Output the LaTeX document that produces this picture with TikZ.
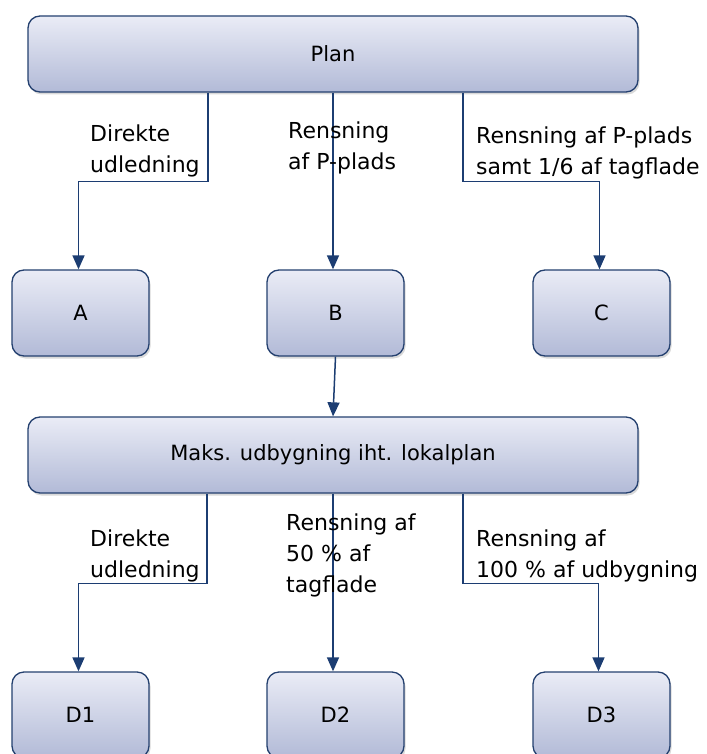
\documentclass[tikz,border=0pt]{standalone}
\usepackage{fontspec}
\setmainfont{DejaVu Sans}
\usetikzlibrary{arrows.meta,shadows}
\definecolor{boxborder}{HTML}{24406F}
\definecolor{boxtop}{HTML}{EAECF6}
\definecolor{boxbot}{HTML}{B2BAD7}
\definecolor{conncol}{HTML}{1C3D72}
\newcommand{\mylbl}[1]{\begin{tabular}[t]{@{}l@{}}#1\end{tabular}}
\begin{document}
\begin{tikzpicture}[x=1pt,y=-1pt,
  boxnode/.style={draw=boxborder, line width=1.3pt, rounded corners=12pt,
    top color=boxtop, bottom color=boxbot, inner sep=0pt,
    font=\fontsize{21}{25}\selectfont,
    drop shadow={opacity=0.3, shadow xshift=1.5pt, shadow yshift=-2.5pt}},
  wide/.style={boxnode, minimum width=610pt, minimum height=76pt},
  small/.style={boxnode, minimum width=137pt, minimum height=86pt},
  conn/.style={draw=conncol, line width=1.5pt, -{Triangle[length=14pt,width=12pt]}},
  lblnode/.style={anchor=base west, inner sep=0pt, font=\fontsize{22}{31}\selectfont}
]
\useasboundingbox (0,0) rectangle (706,754);
\begin{scope}
\clip (0,0) rectangle (706,754);
\node[wide] (plan) at (333,54) {Plan};
\node[small] (A) at (80.5,313) {A};
\node[small] (B) at (335.5,313) {B};
\node[small] (C) at (601.5,313) {C};
\node[wide] (maks) at (333,455) {Maks. udbygning iht. lokalplan};
\node[small] (D1) at (80.5,715) {D1};
\node[small] (D2) at (335.5,715) {D2};
\node[small] (D3) at (601.5,715) {D3};

\draw[conn] ([xshift=-125pt]plan.south) -- ++(0,89) -| ([xshift=-2pt]A.north);
\draw[conn] (plan.south) -- (plan.south |- B.north);
\draw[conn] ([xshift=130pt]plan.south) -- ++(0,89) -| ([xshift=-2pt]C.north);
\draw[conn] (B.south) -- (maks.north);
\draw[conn] ([xshift=-126pt]maks.south) -- ++(0,90) -| ([xshift=-2pt]D1.north);
\draw[conn] (maks.south) -- (maks.south |- D2.north);
\draw[conn] ([xshift=130pt]maks.south) -- ++(0,90) -| ([xshift=-3pt]D3.north);
\end{scope}

\node[lblnode] (l1) at (90,142) {\mylbl{Direkte\\udledning}};
\node[lblnode] (l2) at (288,139) {\mylbl{Rensning\\af P-plads}};
\node[lblnode] (l3) at (476,144) {\mylbl{Rensning af P-plads\\samt 1/6 af tagflade}};
\node[lblnode] (l4) at (90,546) {\mylbl{Direkte\\udledning}};
\node[lblnode] (l5) at (286,530) {\mylbl{Rensning af\\50 \% af\\tagflade}};
\node[lblnode] (l6) at (476,546) {\mylbl{Rensning af\\100 \% af udbygning}};
\end{tikzpicture}
\end{document}
